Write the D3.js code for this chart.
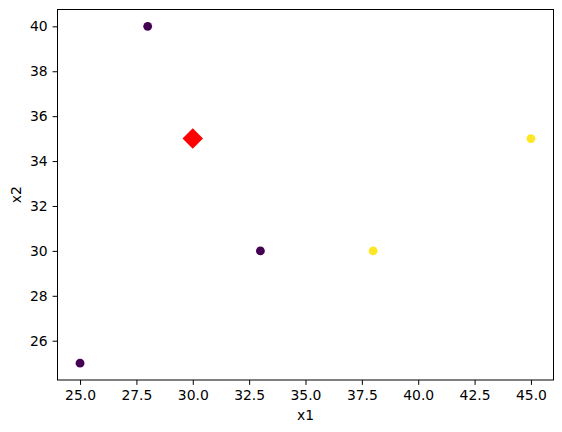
<!DOCTYPE html>
<html><head><meta charset="utf-8">
<script src="https://cdn.jsdelivr.net/npm/d3@7"></script>
<style>body{margin:0;background:#fff}svg{display:block}text{font-family:"DejaVu Sans",sans-serif}</style>
</head><body>
<script>
const x1Values = [25, 28, 33, 38, 45];
const x2Values = [25, 40, 30, 30, 35];
const clusterLabels = [0, 0, 0, 1, 1];
const newPointX1 = [30];
const newPointX2 = [35];
const xTicks = [25.0, 27.5, 30.0, 32.5, 35.0, 37.5, 40.0, 42.5, 45.0];
const yTicks = [26, 28, 30, 32, 34, 36, 38, 40];

const W = 562, H = 432;
const m = {left: 57.5, right: 553.5, top: 9.5, bottom: 380};
const svg = d3.select("body").append("svg").attr("width", W).attr("height", H);
const x = d3.scaleLinear().domain([24, 46]).range([m.left, m.right]);
const y = d3.scaleLinear().domain([24.25, 40.75]).range([m.bottom, m.top]);
const color = d3.scaleOrdinal().domain([0, 1]).range(["#440154", "#fde725"]);

const fs = "13.9px";
const xAxis = svg.append("g").attr("transform", `translate(0,${m.bottom})`)
  .call(d3.axisBottom(x).tickValues(xTicks).tickFormat(d3.format(".1f")).tickSize(4.9).tickPadding(4.9));
const yAxis = svg.append("g").attr("transform", `translate(${m.left},0)`)
  .call(d3.axisLeft(y).tickValues(yTicks).tickFormat(d3.format("d")).tickSize(4.9).tickPadding(4.9));
[xAxis, yAxis].forEach(g => {
  g.select(".domain").remove();
  g.selectAll("line").attr("stroke", "#000").attr("stroke-width", 1);
  g.selectAll("text").attr("fill", "#000").style("font-size", fs).style("font-family", "DejaVu Sans");
});

svg.append("g").selectAll("circle").data(x1Values).join("circle")
  .attr("cx", (d, i) => x(d)).attr("cy", (d, i) => y(x2Values[i]))
  .attr("r", 4.4).attr("fill", (d, i) => color(clusterLabels[i]));

svg.append("g").selectAll("path").data(newPointX1).join("path")
  .attr("d", d3.symbol().type(d3.symbolSquare).size(14.5 * 14.5))
  .attr("transform", (d, i) => `translate(${x(d)},${y(newPointX2[i])}) rotate(45)`)
  .attr("fill", "red");

svg.append("rect").attr("x", m.left).attr("y", m.top)
  .attr("width", m.right - m.left).attr("height", m.bottom - m.top)
  .attr("fill", "none").attr("stroke", "#000").attr("stroke-width", 1);

svg.append("text").attr("x", (m.left + m.right) / 2).attr("y", 419.5)
  .attr("text-anchor", "middle").style("font-size", fs).text("x1");
svg.append("text").attr("transform", `translate(20.5,${(m.top + m.bottom) / 2}) rotate(-90)`)
  .attr("text-anchor", "middle").style("font-size", fs).text("x2");
</script>
</body></html>
